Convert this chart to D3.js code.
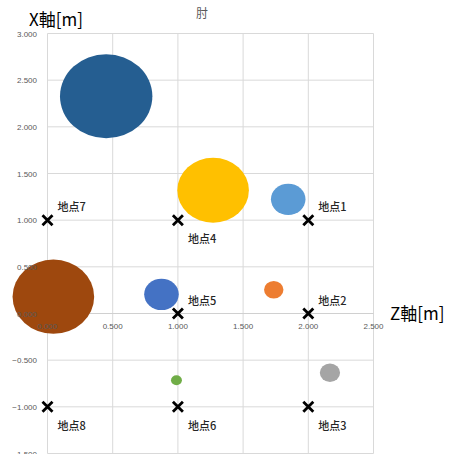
<!DOCTYPE html>
<html><head><meta charset="utf-8">
<script src="https://cdn.jsdelivr.net/npm/d3@7"></script>
<style>body{margin:0;background:#fff}svg{display:block}</style>
</head><body>
<script>
// Data
const bubbleZ = [0.45, 1.27, 1.846, 0.045, 0.874, 1.735, 2.166, 0.989];
const bubbleX = [2.327, 1.32, 1.223, 0.18, 0.205, 0.255, -0.634, -0.715];
const bubbleSize = [100, 60, 14, 78, 14, 4.4, 4.8, 1.4];
const bubbleColors = ["#255E91", "#FFC000", "#5B9BD5", "#9E480E", "#4472C4", "#ED7D31", "#A5A5A5", "#70AD47"];
const pointNames = ["地点1","地点2","地点3","地点4","地点5","地点6","地点7","地点8"];
const pointZ = [2, 2, 2, 1, 1, 1, 0, 0];
const pointX = [1, 0, -1, 1, 0, -1, 1, -1];
const labelAbove = [true, true, false, false, true, false, true, false];
const zTicks = [0, 0.5, 1.0, 1.5, 2.0, 2.5];
const xTicks = [3.0, 2.5, 2.0, 1.5, 1.0, 0.5, 0, -0.5, -1.0, -1.5];

const W = 450, H = 454;
const svg = d3.select("body").append("svg").attr("width", W).attr("height", H);

const sx = d3.scaleLinear().domain([0, 2.5]).range([47.5, 373.5]);
const sy = d3.scaleLinear().domain([-1.5, 3.0]).range([453.5, 33.5]);
const sr = d3.scaleSqrt().domain([0, 100]).range([0, 42]);
const aspect = 1.1;

// gridlines
svg.append("g").selectAll("line.h").data(xTicks).join("line")
  .attr("x1", sx(0)).attr("x2", sx(2.5))
  .attr("y1", d => sy(d)).attr("y2", d => sy(d))
  .attr("stroke", "#D9D9D9").attr("stroke-width", 1);
svg.append("g").selectAll("line.v").data(zTicks).join("line")
  .attr("x1", d => sx(d)).attr("x2", d => sx(d))
  .attr("y1", sy(3.0)).attr("y2", sy(-1.5))
  .attr("stroke", "#D9D9D9").attr("stroke-width", 1);
// axis line at X=0
svg.append("line").attr("x1", sx(0)).attr("x2", sx(2.5)).attr("y1", sy(0)).attr("y2", sy(0))
  .attr("stroke", "#D0D0D0").attr("stroke-width", 1.2);

// bubbles
svg.append("g").selectAll("ellipse").data(bubbleSize.map((s, i) => i)).join("ellipse")
  .attr("cx", i => sx(bubbleZ[i])).attr("cy", i => sy(bubbleX[i]))
  .attr("rx", i => sr(bubbleSize[i]) * aspect).attr("ry", i => sr(bubbleSize[i]))
  .attr("fill", i => bubbleColors[i]);

// tick labels
const fmt = d3.format(".3f");
svg.append("g").selectAll("text").data(xTicks).join("text")
  .attr("x", 37).attr("y", d => sy(d) + 3)
  .attr("text-anchor", "end").attr("font-family", "Liberation Sans, Arial, sans-serif")
  .attr("font-size", 8).attr("fill", "#595959").text(d => fmt(d));
svg.append("g").selectAll("text").data(zTicks).join("text")
  .attr("x", d => sx(d)).attr("y", sy(0) + 15)
  .attr("text-anchor", "middle").attr("font-family", "Liberation Sans, Arial, sans-serif")
  .attr("font-size", 8).attr("fill", "#595959").text(d => fmt(d));

// point markers (x)
const mk = svg.append("g");
pointNames.forEach((n, i) => {
  const cx = sx(pointZ[i]), cy = sy(pointX[i]), s = 5;
  mk.append("path")
    .attr("d", `M${cx - s},${cy - s}L${cx + s},${cy + s}M${cx - s},${cy + s}L${cx + s},${cy - s}`)
    .attr("stroke", "#000").attr("stroke-width", 2.8).attr("fill", "none");
  mk.append("text")
    .attr("x", cx + 10).attr("y", labelAbove[i] ? cy - 9 : cy + 23)
    .attr("font-family", "Noto Sans CJK JP, sans-serif").attr("font-size", 11)
    .attr("font-weight", 500)
    .attr("fill", "#262626").text(n);
});

// titles
svg.append("text").attr("x", 202).attr("y", 18).attr("text-anchor", "middle")
  .attr("font-family", "Noto Sans CJK JP, sans-serif").attr("font-size", 12).attr("fill", "#595959").text("肘");
svg.append("text").attr("x", 29).attr("y", 26)
  .attr("font-family", "Noto Sans CJK JP, sans-serif").attr("font-size", 17).attr("fill", "#000").text("X軸[m]");
svg.append("text").attr("x", 390).attr("y", 320)
  .attr("font-family", "Noto Sans CJK JP, sans-serif").attr("font-size", 17).attr("fill", "#000").text("Z軸[m]");
</script>
</body></html>
